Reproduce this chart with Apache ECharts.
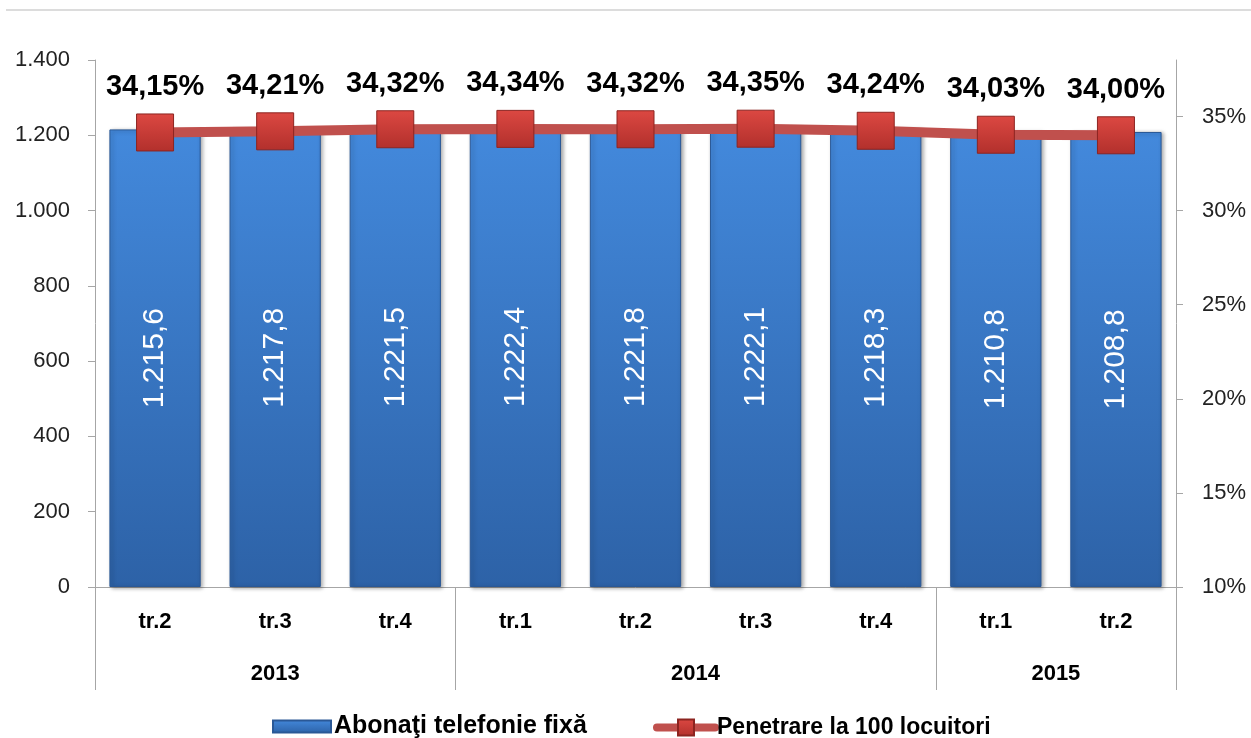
<!DOCTYPE html>
<html><head><meta charset="utf-8">
<script src="https://cdn.jsdelivr.net/npm/echarts@6/dist/echarts.min.js"></script>
<style>html,body{margin:0;padding:0;background:#fff}#c{width:1251px;height:738px}</style>
</head><body><div id="c"></div>
<script>
const quarters = ['tr.2','tr.3','tr.4','tr.1','tr.2','tr.3','tr.4','tr.1','tr.2'];
const years = ['2013','2014','2015'];
const yearQuarterCounts = [3, 4, 2];
const subscribers = [1215.6, 1217.8, 1221.5, 1222.4, 1221.8, 1222.1, 1218.3, 1210.8, 1208.8];
const penetration = [34.15, 34.21, 34.32, 34.34, 34.32, 34.35, 34.24, 34.03, 34.00];
const rightTicks = [10, 15, 20, 25, 30, 35];
const barName = 'Abonaţi telefonie fixă';
const lineName = 'Penetrare la 100 locuitori';

function fmt(v, dec) {
  const s = v.toFixed(dec);
  const parts = s.split('.');
  const ip = parts[0].replace(/\B(?=(\d{3})+(?!\d))/g, '.');
  return parts[1] ? ip + ',' + parts[1] : ip;
}

// year axis: half-quarter slots
const slots = quarters.length * 2 + 1;
const yearSlots = new Array(slots).fill('');
const yearBoundaries = [0];
const yearLabelIdx = [];
let cum = 0;
yearQuarterCounts.forEach((n, i) => {
  const mid = cum * 2 + n;
  yearSlots[mid] = years[i];
  yearLabelIdx.push(mid);
  cum += n;
  yearBoundaries.push(cum * 2);
});

const FONT = '"Liberation Sans", Arial, sans-serif';
const grey = '#a6a6a6';

const chart = echarts.init(document.getElementById('c'));
chart.setOption({
  animation: false,
  textStyle: { fontFamily: FONT },
  graphic: [{
    type: 'line', shape: { x1: 6, y1: 10, x2: 1251, y2: 10 },
    style: { stroke: '#d0d0d0', lineWidth: 1.5 }
  }],
  grid: { left: 95, right: 75, top: 60, bottom: 151 },
  legend: [{
    data: [barName], left: 267, top: 709, itemWidth: 58, itemHeight: 12,
    icon: 'rect', itemGap: 4,
    textStyle: { fontSize: 25, fontWeight: 'bold', color: '#000', fontFamily: FONT, padding: [0, 0, 0, -2] }
  }, {
    data: [lineName], left: 648, top: 711, itemWidth: 58, itemHeight: 20,
    lineStyle: { width: 8, cap: 'round' },
    textStyle: { fontSize: 23, fontWeight: 'bold', color: '#000', fontFamily: FONT, padding: [0, 0, 0, -3] }
  }],
  xAxis: [{
    type: 'category', data: quarters, position: 'bottom',
    axisLine: { lineStyle: { color: grey } },
    axisTick: { length: 51, lineStyle: { color: grey } },
    axisLabel: { margin: 24, fontSize: 22, fontWeight: 'bold', color: '#000', interval: 0 }
  }, {
    type: 'category', data: yearSlots, position: 'bottom', boundaryGap: false,
    axisLine: { show: false },
    axisTick: { length: 103, lineStyle: { color: grey },
      interval: (i) => yearBoundaries.indexOf(i) >= 0 },
    axisLabel: { margin: 76, fontSize: 22, fontWeight: 'bold', color: '#000',
      interval: (i) => yearLabelIdx.indexOf(i) >= 0 }
  }],
  yAxis: [{
    type: 'value', min: 0, max: 1400, interval: 200,
    splitLine: { show: false },
    axisLine: { show: true, lineStyle: { color: grey } },
    axisTick: { show: true, length: 7, lineStyle: { color: grey } },
    axisLabel: { margin: 25, fontSize: 22, color: '#222', formatter: (v) => fmt(v, 0) }
  }, {
    type: 'value', min: 10, max: 38, interval: 5, position: 'right',
    splitLine: { show: false },
    axisLine: { show: true, lineStyle: { color: grey } },
    axisTick: { show: true, length: 7, lineStyle: { color: grey }, customValues: rightTicks },
    axisLabel: { margin: 26, fontSize: 22, color: '#222', customValues: rightTicks,
      formatter: (v) => (rightTicks.indexOf(v) >= 0 ? v + '%' : '') }
  }],
  series: [{
    name: barName, type: 'bar', data: subscribers, barWidth: '76%',
    itemStyle: {
      color: new echarts.graphic.LinearGradient(0, 0, 0, 1, [
        { offset: 0, color: '#4389dc' }, { offset: 1, color: '#2d62a7' }]),
      borderColor: '#2a5896', borderWidth: 1,
      shadowBlur: 4, shadowColor: 'rgba(0,0,0,0.35)', shadowOffsetX: 2, shadowOffsetY: 1
    },
    label: { show: true, position: 'inside', rotate: 90, fontSize: 30, color: '#fff',
      formatter: (p) => fmt(p.value, 1) }
  }, {
    name: lineName, type: 'line', yAxisIndex: 1, data: penetration, z: 5,
    symbol: 'rect', symbolSize: 37,
    lineStyle: { color: '#c0504d', width: 10 },
    itemStyle: {
      color: new echarts.graphic.LinearGradient(0, 0, 0, 1, [
        { offset: 0, color: '#dc4842' }, { offset: 1, color: '#b2302c' }]),
      borderColor: '#8c2420', borderWidth: 1
    },
    label: { show: true, position: 'top', distance: 12, fontSize: 29, fontWeight: 'bold',
      color: '#000', formatter: (p) => fmt(p.value, 2) + '%' }
  }]
});
</script></body></html>
